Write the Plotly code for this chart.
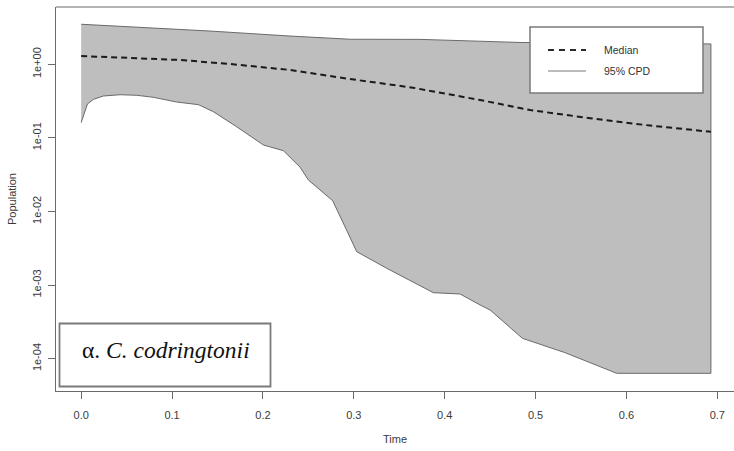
import plotly.graph_objects as go

# Posterior population trajectory: median and 95% credible band
median_time = [0.0, 0.109, 0.164, 0.230, 0.293, 0.365, 0.439, 0.494, 0.560, 0.626, 0.693]
median_pop = [1.297, 1.144, 1.01, 0.837, 0.638, 0.481, 0.327, 0.239, 0.185, 0.147, 0.121]

upper_time = [0.0, 0.142, 0.230, 0.296, 0.373, 0.483, 0.693]
upper_pop = [3.50, 2.83, 2.42, 2.19, 2.18, 1.98, 1.89]

lower_time = [0.0, 0.0069, 0.0135, 0.0245, 0.0429, 0.0613, 0.0795, 0.105, 0.129,
              0.1455, 0.171, 0.2006, 0.2226, 0.2409, 0.250, 0.2768, 0.3033, 0.3363,
              0.3876, 0.417, 0.439, 0.450, 0.4856, 0.5323, 0.5893, 0.693]
lower_pop = [0.161, 0.289, 0.334, 0.371, 0.386, 0.379, 0.356, 0.307, 0.283,
             0.227, 0.142, 0.080, 0.067, 0.040, 0.0268, 0.0140, 0.00284, 0.00169,
             0.000788, 0.000757, 0.000537, 0.000459, 0.000189, 0.000121, 6.33e-5, 6.33e-5]

x_ticks = [0.0, 0.1, 0.2, 0.3, 0.4, 0.5, 0.6, 0.7]
x_tick_text = ["0.0", "0.1", "0.2", "0.3", "0.4", "0.5", "0.6", "0.7"]
y_ticks = [1e-4, 1e-3, 1e-2, 1e-1, 1e0]
y_tick_text = ["1e-04", "1e-03", "1e-02", "1e-01", "1e+00"]

W, H = 734, 451
L, R, T, B = 56, 734, 7, 391


def px_x(p):
    return (p - L) / (R - L)


def px_y(p):
    return (B - p) / (B - T)


fig = go.Figure()

# Shaded credible band
fig.add_trace(go.Scatter(
    x=lower_time + upper_time[::-1],
    y=lower_pop + upper_pop[::-1],
    mode="lines", fill="toself", fillcolor="#bebebe",
    line=dict(color="#6a6a6a", width=1),
    hoverinfo="skip", showlegend=False,
))

# Median trajectory
fig.add_trace(go.Scatter(
    x=median_time, y=median_pop, mode="lines",
    line=dict(color="#1a1a1a", width=2, dash="6px,4px"),
    showlegend=False,
))

tick_font = dict(family="Liberation Sans, Arial, sans-serif", size=11, color="#3a3a3a")

fig.update_layout(
    width=W, height=H,
    margin=dict(l=L, r=W - R, t=T, b=H - B),
    paper_bgcolor="white", plot_bgcolor="white",
    showlegend=False,
    xaxis=dict(
        range=[-0.0277, 0.7184], showgrid=False, zeroline=False,
        showline=True, linecolor="#6a6a6a", linewidth=1,
        ticks="outside", ticklen=7, tickcolor="#6a6a6a",
        tickvals=x_ticks, ticktext=x_tick_text, tickfont=tick_font,
        ticklabelstandoff=7,
        title=dict(text="Time", font=tick_font, standoff=15),
    ),
    yaxis=dict(
        type="log", range=[-4.439, 0.7785], showgrid=False, zeroline=False,
        showline=True, linecolor="#6a6a6a", linewidth=1,
        ticks="outside", ticklen=7, tickcolor="#6a6a6a",
        tickvals=y_ticks, ticktext=y_tick_text, tickangle=-90, tickfont=tick_font,
        ticklabelstandoff=3,
        title=dict(text="Population", font=tick_font, standoff=11),
    ),
)

shapes = []
annotations = []

# Top edge of the plot frame
shapes.append(dict(type="line", xref="paper", yref="paper", x0=0, x1=1, y0=1, y1=1,
                   line=dict(color="#6a6a6a", width=1)))

# Legend box
shapes.append(dict(type="rect", xref="paper", yref="paper",
                   x0=px_x(530), x1=px_x(703), y0=px_y(93), y1=px_y(27),
                   fillcolor="white", line=dict(color="#7a7a7a", width=1.5)))
shapes.append(dict(type="line", xref="paper", yref="paper",
                   x0=px_x(548), x1=px_x(586), y0=px_y(50), y1=px_y(50),
                   line=dict(color="#2a2a2a", width=2, dash="6px,5px")))
shapes.append(dict(type="line", xref="paper", yref="paper",
                   x0=px_x(548), x1=px_x(586), y0=px_y(71), y1=px_y(71),
                   line=dict(color="#7a7a7a", width=1.2)))
legend_font = dict(family="Liberation Sans, Arial, sans-serif", size=10.5, color="#333333")
annotations.append(dict(text="Median", xref="paper", yref="paper", x=px_x(602), y=px_y(50),
                        xanchor="left", yanchor="middle", showarrow=False, font=legend_font))
annotations.append(dict(text="95% CPD", xref="paper", yref="paper", x=px_x(602), y=px_y(71),
                        xanchor="left", yanchor="middle", showarrow=False, font=legend_font))

# Species label box
shapes.append(dict(type="rect", xref="paper", yref="paper",
                   x0=px_x(59.5), x1=px_x(270.5), y0=px_y(386.5), y1=px_y(323.5),
                   fillcolor="white", line=dict(color="#7a7a7a", width=1.8)))
annotations.append(dict(text="α. <i>C. codringtonii</i>", xref="paper", yref="paper",
                        x=px_x(80), y=px_y(350), xanchor="left", yanchor="middle",
                        showarrow=False,
                        font=dict(family="Liberation Serif, Times New Roman, serif",
                                  size=23.5, color="#111111")))

fig.update_layout(shapes=shapes, annotations=annotations)

fig.write_html("out.html")
